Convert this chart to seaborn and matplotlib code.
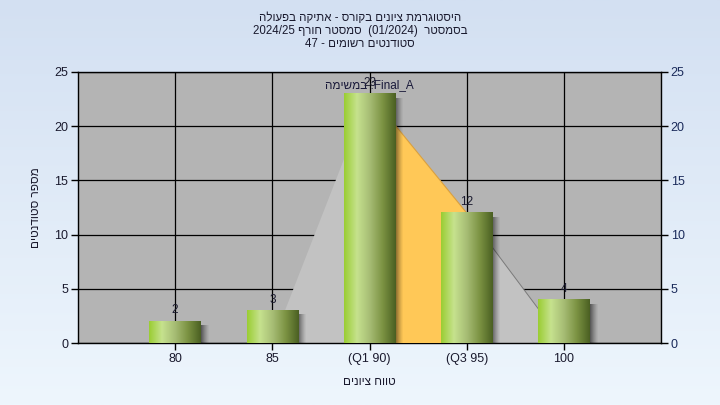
import numpy as np
import pandas as pd
import matplotlib
matplotlib.use('Agg')
import matplotlib.pyplot as plt
import seaborn as sns
from matplotlib.colors import LinearSegmentedColormap
from matplotlib.patches import Polygon, Rectangle

# ---------------- data ----------------
categories = ['80', '85', '(Q1 90)', '(Q3 95)', '100']
counts = [2, 3, 23, 12, 4]
curve_categories = ['85', '(Q1 90)', '(Q3 95)', '100']
curve_values = [0, 23, 12, 0]
quartile_categories = ['(Q1 90)', '(Q3 95)']
y_ticks = [0, 5, 10, 15, 20, 25]

# Hebrew text (converted to visual order for left-to-right rendering)
title_line1 = "היסטוגרמת ציונים בקורס - אתיקה בפעולה"[::-1]
title_line2 = "2024/25 " + "סמסטר חורף"[::-1] + "  (01/2024)  " + "בסמסטר"[::-1]
title_line3 = "47 - " + "סטודנטים רשומים"[::-1]
x_label = "טווח ציונים"[::-1]
y_label = "מספר סטודנטים"[::-1]
note_text = "במשימה"[::-1] + " :Final_A"

# ---------------- style ----------------
sns.set_theme(style='white')
plt.rcParams['font.family'] = ['Liberation Sans', 'DejaVu Sans']
plt.rcParams['font.size'] = 8.5
txt_col = '#1a1a2e'

fig = plt.figure(figsize=(7.2, 4.05), dpi=100)

# background gradient
bg = fig.add_axes([0, 0, 1, 1], zorder=-10)
bg_cmap = LinearSegmentedColormap.from_list('bg', ['#d3e0f2', '#eef6fd'])
bg.imshow(np.linspace(0, 1, 256).reshape(-1, 1), aspect='auto', cmap=bg_cmap,
          extent=[0, 1, 0, 1])
bg.axis('off')

W, H = 720, 405
L, R, T, B = 78, 661, 72, 343
ax = fig.add_axes([L / W, 1 - B / H, (R - L) / W, (B - T) / H])
ax.set_facecolor('#b4b4b4')

df = pd.DataFrame({'cat': categories, 'count': counts})
bar_w = 0.53
sns.barplot(data=df, x='cat', y='count', order=categories, ax=ax,
            width=bar_w, color='#9acd32', saturation=1, zorder=5)

ax.set_xlim(-1, 5)
ax.set_ylim(0, 25)
ax.set_yticks(y_ticks)

# grid
ax.grid(True, color='black', lw=0.9, zorder=1)
ax.set_axisbelow(True)
for s in ax.spines.values():
    s.set_color('black')
    s.set_linewidth(1)

# distribution polygon
pos = {c: i for i, c in enumerate(categories)}
cx = [pos[c] for c in curve_categories]
cy = curve_values
poly = Polygon(list(zip(cx, cy)), closed=True, facecolor='#c2c2c2',
               edgecolor='none', zorder=2)
ax.add_patch(poly)
# orange region between Q1 and Q3
q1, q3 = pos[quartile_categories[0]], pos[quartile_categories[1]]
y_q1 = np.interp(q1, cx, cy)
y_q3 = np.interp(q3, cx, cy)
orange = Polygon([(q1, 0), (q1, y_q1), (q3, y_q3), (q3, 0)], closed=True,
                 facecolor='#ffc857', edgecolor='none', zorder=3)
ax.add_patch(orange)
ax.plot([q1, q3], [y_q1, y_q3], color='#d9a040', lw=0.8, zorder=3)
ax.plot(cx[2:], cy[2:], color='#7a7a7a', lw=0.7, zorder=3)

# bar gradient + shadow
bar_cmap = LinearSegmentedColormap.from_list(
    'bar', ['#9acd32', '#c6e28e', '#a6bc74', '#7b9242', '#4a5f22'])
grad = np.linspace(0, 1, 256).reshape(1, -1)
px_x = 6.0 / (R - L)   # data units per pixel (x)
px_y = 25.0 / (B - T)  # data units per pixel (y)
for p in list(ax.patches):
    if not isinstance(p, Rectangle) or p.get_zorder() != 5:
        continue
    x0, y0 = p.get_x(), p.get_y()
    w, h = p.get_width(), p.get_height()
    if h <= 0:
        continue
    # soft shadow strips
    for i in range(8):
        a = 0.5 * (1 - i / 8) ** 1.3
        ax.add_patch(Rectangle((x0 + w + i * px_x, 0), px_x, max(h - 4 * px_y, 0),
                               facecolor='black', alpha=a, edgecolor='none', zorder=4))
    p.set_alpha(0)
    ax.imshow(grad, cmap=bar_cmap, aspect='auto', extent=[x0, x0 + w, y0, y0 + h],
              zorder=6, interpolation='bilinear')
    ax.text(x0 + w / 2, y0 + h + 0.45, f'{int(round(h))}', ha='center', va='bottom',
            fontsize=8.5, color=txt_col, zorder=8)

ax.set_xlim(-1, 5)
ax.set_ylim(0, 25)

# annotation
ax.text(pos['(Q1 90)'], 23.8, note_text, ha='center', va='center',
        fontsize=8.5, color='#1a1a3a', zorder=9)

# axes labels & ticks
ax.set_xlabel(x_label, fontsize=8.5, color=txt_col, labelpad=8)
ax.set_ylabel(y_label, fontsize=8.5, color=txt_col, labelpad=9)
ax.tick_params(axis='both', which='both', direction='out', length=5, width=1,
               color='black', labelsize=9, labelcolor=txt_col, pad=2,
               bottom=True, left=True)

ax2 = ax.twinx()
ax2.set_ylim(0, 25)
ax2.set_yticks(y_ticks)
ax2.tick_params(axis='y', direction='out', length=5, width=1, color='black',
                labelsize=9, labelcolor='#1a2a5a', pad=2)
ax2.grid(False)
for s in ax2.spines.values():
    s.set_visible(False)

# titles
for i, line in enumerate([title_line1, title_line2, title_line3]):
    fig.text(0.5, 1 - (18 + 13 * i) / H, line, ha='center', va='center',
             fontsize=8.3, color=txt_col)

fig.savefig('out.png', dpi=100)
